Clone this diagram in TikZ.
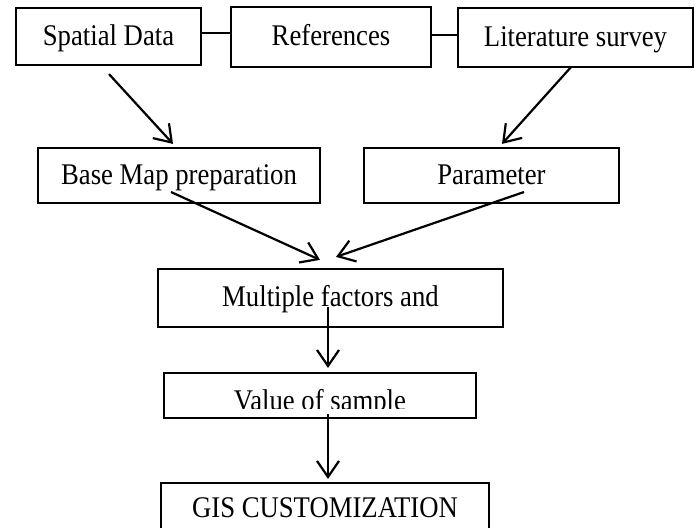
\documentclass[tikz,border=0pt]{standalone}
\usepackage{fontspec}
\setmainfont{Liberation Serif}[FakeStretch=0.89]
\usetikzlibrary{arrows.meta}
\begin{document}
\begin{tikzpicture}[x=1pt,y=-1pt,
  txt/.style={font=\fontsize{30}{34}\selectfont},
  box/.style={draw, line width=2.2pt, inner sep=0pt, txt, text height=21pt, text depth=4pt},
  conn/.style={line width=2.2pt},
  arr/.style={line width=2.2pt, -{Straight Barb[length=16pt,width=22pt]}}]
\useasboundingbox (0,0) rectangle (697,528);

% top row
\node[box, minimum width=185pt, minimum height=57pt] (sd)  at (108.5,36.5) {Spatial Data};
\node[box, minimum width=200pt, minimum height=60pt] (ref) at (331,37)     {References};
\node[box, minimum width=235pt, minimum height=59pt] (lit) at (575.5,37.5) {Literature survey};

% second row
\node[box, minimum width=282pt, minimum height=55pt] (bm)  at (179,175.5)   {Base Map preparation};
\node[box, minimum width=255pt, minimum height=55pt] (par) at (491.5,175.5) {Parameter};

% lower boxes
\node[box, minimum width=345pt, minimum height=58pt] (mf)  at (330.5,298) {Multiple factors and};
\node[box, minimum width=312pt, minimum height=45pt] (vs)  at (320,395.5) {};
\begin{scope}
  \clip (vs.north west) rectangle ([shift={(0,-11)}]vs.south east);
  \node[txt, anchor=base, inner sep=0pt] (vstext) at ([shift={(0,-9)}]vs.south) {Value of sample};
\end{scope}
\node[box, minimum width=328pt, minimum height=52pt] (gis) at (325,509) {GIS CUSTOMIZATION};

% plain connectors
\draw[conn] ([shift={(0,-3.5)}]sd.east) -- ([shift={(0,-3.5)}]sd.east -| ref.west);
\draw[conn] ([shift={(0,-2)}]ref.east) -- ([shift={(0,-2)}]ref.east -| lit.west);

% arrows
\draw[arr] ([shift={(0.5,8)}]sd.south) -- ([shift={(-6,-3)}]bm.north);
\draw[arr] ([shift={(-4.5,-1)}]lit.south) -- ([shift={(10.5,-3)}]par.north);
\draw[arr] ([shift={(-8,16.5)}]bm.center) -- ([shift={(-10.5,-8)}]mf.north);
\draw[arr] ([shift={(32.5,16.5)}]par.center) -- ([shift={(5.5,-11)}]mf.north);
\draw[arr] ([shift={(-2.5,9)}]mf.center) -- ([shift={(8,-4)}]vs.north);
\draw[arr] ([shift={(8,18.5)}]vs.center) -- ([shift={(3,-3)}]gis.north);
\end{tikzpicture}
\end{document}
